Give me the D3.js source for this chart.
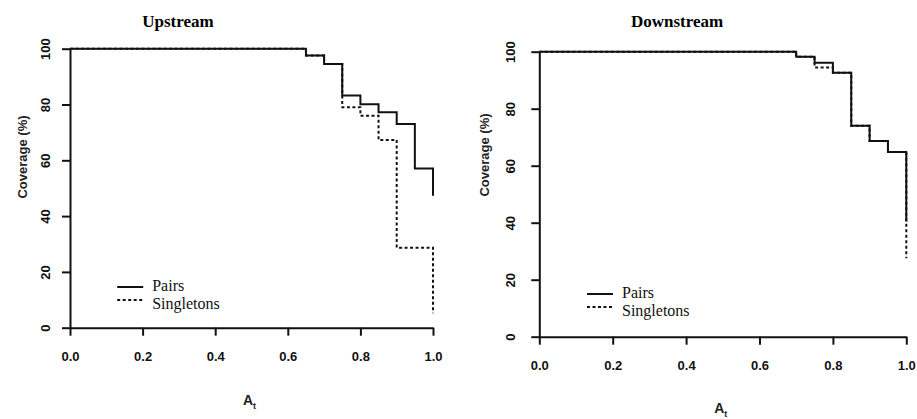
<!DOCTYPE html>
<html>
<head>
<meta charset="utf-8">
<script src="https://cdn.jsdelivr.net/npm/d3@7"></script>
<style>
  body { margin: 0; background: #fff; }
  svg { display: block; }
  .tick text { font-family: "Liberation Sans", Arial, sans-serif; font-size: 13px; font-weight: bold; fill: #111; }
  .axis path, .axis line { stroke: #111; stroke-width: 2; }
</style>
</head>
<body>
<svg id="chart" width="917" height="419"></svg>
<script>
// tick values
const xTicks = [0, 0.2, 0.4, 0.6, 0.8, 1.0];
const yTicks = [0, 20, 40, 60, 80, 100];

// Upstream curves (A_t where coverage drops, coverage after the drop)
const upPairsX = [0, 0.65, 0.70, 0.75, 0.80, 0.85, 0.90, 0.95, 1.0];
const upPairsY = [100, 97.6, 94.5, 83.2, 80.1, 77.2, 73.0, 57.1, 47.3];
const upSingleX = [0, 0.65, 0.70, 0.75, 0.80, 0.85, 0.90, 1.0];
const upSingleY = [100, 97.6, 94.5, 79.0, 76.0, 67.3, 28.7, 5.2];

// Downstream curves
const downPairsX = [0, 0.70, 0.75, 0.80, 0.85, 0.90, 0.95, 1.0];
const downPairsY = [100, 98.2, 96.1, 92.6, 74.0, 68.7, 64.8, 40.4];
const downSingleX = [0, 0.70, 0.75, 0.80, 0.85, 0.90, 0.95, 1.0];
const downSingleY = [100, 98.2, 94.5, 92.6, 74.0, 68.7, 64.8, 27.5];

const legendLabels = ['Pairs', 'Singletons'];

const svg = d3.select('#chart');

const panels = [
  {
    title: 'Upstream',
    left: 70, right: 433, top: 48.7, bottom: 327.7,
    titleX: 178, titleY: 27, yLabelOff: 20,
    yTitleX: 22, yTitleY: 157, xTitleY: 405,
    legendY: 287,
    series: [
      { x: upPairsX, y: upPairsY, dash: null },
      { x: upSingleX, y: upSingleY, dash: '3,2.5' }
    ]
  },
  {
    title: 'Downstream',
    left: 539.3, right: 906.3, top: 51.7, bottom: 336.7,
    titleX: 677, titleY: 27, yLabelOff: 24,
    yTitleX: 484, yTitleY: 155, xTitleY: 413,
    legendY: 294,
    series: [
      { x: downPairsX, y: downPairsY, dash: null },
      { x: downSingleX, y: downSingleY, dash: '3,2.5' }
    ]
  }
];

panels.forEach(p => drawPanel(p));

function drawPanel(p) {

  const x = d3.scaleLinear().domain([0, 1]).range([p.left, p.right]);
  const y = d3.scaleLinear().domain([0, 100]).range([p.bottom, p.top]);
  const g = svg.append('g');

  // x axis
  const xAxis = g.append('g')
    .attr('class', 'axis')
    .attr('transform', `translate(0,${p.bottom})`)
    .call(d3.axisBottom(x).tickValues(xTicks).tickFormat(d3.format('.1f'))
      .tickSize(8).tickSizeOuter(0).tickPadding(16));
  xAxis.selectAll('.tick text').attr('dy', '0.71em');

  // y axis, labels rotated as in R
  const yAxis = g.append('g')
    .attr('class', 'axis')
    .attr('transform', `translate(${p.left},0)`)
    .call(d3.axisLeft(y).tickValues(yTicks).tickSize(8).tickSizeOuter(0));
  yAxis.selectAll('.tick text')
    .attr('x', 0)
    .attr('dy', null)
    .attr('text-anchor', 'middle')
    .attr('transform', `translate(${-p.yLabelOff},0) rotate(-90)`);

  // curves
  const line = d3.line().curve(d3.curveStepAfter)
    .x(d => x(d[0])).y(d => y(d[1]));

  p.series.forEach(s => {
    g.append('path')
      .datum(d3.zip(s.x, s.y))
      .attr('d', line)
      .attr('fill', 'none')
      .attr('stroke', '#111')
      .attr('stroke-width', 2)
      .attr('stroke-dasharray', s.dash);
  });

  // titles
  g.append('text')
    .attr('x', p.titleX)
    .attr('y', p.titleY)
    .attr('text-anchor', 'middle')
    .style('font-family', '"Liberation Serif", "Times New Roman", serif')
    .style('font-weight', 'bold')
    .style('font-size', '17px')
    .text(p.title);

  g.append('text')
    .attr('transform', `translate(${p.yTitleX},${p.yTitleY}) rotate(-90)`)
    .attr('text-anchor', 'middle')
    .attr('dy', '0.35em')
    .style('font-family', '"Liberation Sans", Arial, sans-serif')
    .style('font-weight', 'bold')
    .style('font-size', '13px')
    .style('fill', '#222')
    .text('Coverage (%)');

  const xt = g.append('text')
    .attr('x', (p.left + p.right) / 2 - 2)
    .attr('y', p.xTitleY)
    .attr('text-anchor', 'middle')
    .style('font-family', '"Liberation Sans", Arial, sans-serif')
    .style('font-weight', 'bold')
    .style('font-size', '14px')
    .style('fill', '#222');
  xt.append('tspan').text('A');
  xt.append('tspan').attr('dy', 4).style('font-size', '9px').text('t');

  // legend
  const lx = x(0.13);
  legendLabels.forEach((label, i) => {
    const ly = p.legendY + i * 13;
    g.append('line')
      .attr('x1', lx).attr('x2', lx + 26)
      .attr('y1', ly).attr('y2', ly)
      .attr('stroke', '#111')
      .attr('stroke-width', 2)
      .attr('stroke-dasharray', p.series[i].dash);
    g.append('text')
      .attr('x', lx + 35)
      .attr('y', p.legendY + 4 + i * 18)
      .style('font-family', '"Liberation Serif", "Times New Roman", serif')
      .style('font-size', '16px')
      .style('fill', '#111')
      .text(label);
  });
}
</script>
</body>
</html>
